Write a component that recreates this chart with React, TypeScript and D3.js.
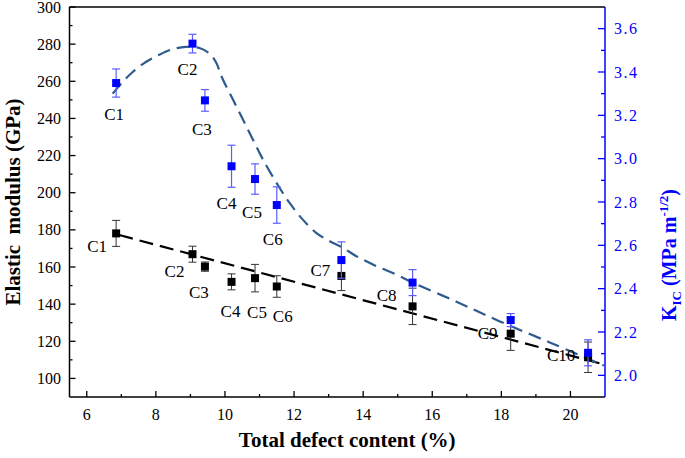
import React from "react";
import * as d3 from "d3";

// ---- data ----
const samples = ["C1", "C2", "C3", "C4", "C5", "C6", "C7", "C8", "C9", "C10"];
const defectContent = [6.85, 9.06, 9.42, 10.19, 10.87, 11.5, 13.37, 15.43, 18.27, 20.51];
const elasticModulus = [178.1, 166.9, 160.2, 152.0, 154.0, 149.5, 155.2, 138.8, 124.1, 111.4];
const elasticErr = [7.0, 4.3, 2.5, 4.3, 7.4, 5.8, 7.9, 9.8, 9.0, 8.2];
const kicSamples = ["C1", "C2", "C3", "C4", "C5", "C6", "C7", "C8", "C9", "C10"];
const kicValues = [3.349, 3.531, 3.269, 2.965, 2.906, 2.786, 2.532, 2.428, 2.255, 2.104];
const kicErr = [0.065, 0.043, 0.05, 0.097, 0.07, 0.084, 0.084, 0.06, 0.03, 0.06];
// fitted trend lines
const modulusFitX = [6.94, 20.97];
const modulusFitY = [177.2, 107.5];
const kicFitX = [6.75, 7.04, 7.33, 7.71, 8.1, 8.48, 8.87, 9.26, 9.55, 9.74, 9.93, 10.22, 10.51, 10.8, 11.09, 11.57, 11.86, 12.24, 12.63, 13.02, 13.4, 13.79, 14.37, 14.95, 15.43, 16.7, 17.94, 19.4, 20.83, 20.97];
const kicFitY = [3.3, 3.354, 3.4, 3.446, 3.48, 3.505, 3.516, 3.511, 3.485, 3.445, 3.369, 3.276, 3.184, 3.091, 2.999, 2.868, 2.798, 2.721, 2.659, 2.62, 2.59, 2.551, 2.505, 2.466, 2.428, 2.34, 2.25, 2.152, 2.054, 2.045];
const xTicks = [6, 8, 10, 12, 14, 16, 18, 20];
const yLeftTicks = [100, 120, 140, 160, 180, 200, 220, 240, 260, 280, 300];
const yRightTicks = [2.0, 2.2, 2.4, 2.6, 2.8, 3.0, 3.2, 3.4, 3.6];

// ---- layout (label offsets in px) ----
const blackLabelOffsets: [number, number][] = [
  [-19, 13], [-18, 17], [-6, 25], [-1, 29], [2, 34], [6, 29], [-21, -6], [-26, -11], [-23, -1], [-27, -2],
];
const blueLabelOffsets: ([number, number] | null)[] = [
  [-2, 31], [-5, 25], [-3, 29], [-5, 37], [-3, 33], [-4, 34], null, null, null, null,
];

const W = 685, H = 458;
const L = 69.5, R = 605, T = 7, B = 397;
const FONT = '"Liberation Serif", "Times New Roman", "Times"';
const BLUE = "#0000ff";

export default function App() {
  const x = d3.scaleLinear().domain([5.5, 21]).range([L, R]);
  const yL = d3.scaleLinear().domain([90, 300]).range([B, T]);
  const yR = d3.scaleLinear().domain([1.9, 3.7]).range([B, T]);

  const modLine = d3.line<number>().x((d, i) => x(modulusFitX[i])).y((d) => yL(d))(modulusFitY) || "";
  const kicLine =
    d3.line<number>().x((d, i) => x(kicFitX[i])).y((d) => yR(d)).curve(d3.curveCatmullRom)(kicFitY) || "";

  const xMinor = d3.range(7, 21, 2);
  const yLMinor = d3.range(110, 300, 20);
  const yRMinor = d3.range(2.1, 3.7, 0.2);

  const ms = 8;
  const cap = 4;

  return (
    <div style={{ fontFamily: FONT }}>
      <svg
        width={W}
        height={H}
        fontFamily="Liberation Serif"
        style={{ position: "absolute", left: 0, top: 0, background: "#fff", fontFamily: FONT }}
      >
        {/* frame */}
        <line x1={L} y1={T} x2={R} y2={T} stroke="#000" strokeWidth={1.5} />
        <line x1={L} y1={T} x2={L} y2={B} stroke="#000" strokeWidth={1.5} />
        <line x1={L} y1={B} x2={R} y2={B} stroke="#000" strokeWidth={1.5} />
        <line x1={R} y1={T} x2={R} y2={B} stroke={BLUE} strokeWidth={1.5} />

        {/* x ticks */}
        {xTicks.map((t) => (
          <g key={"xt" + t}>
            <line x1={x(t)} x2={x(t)} y1={B} y2={B - 6} stroke="#000" strokeWidth={1.3} />
            <text x={x(t)} y={420} textAnchor="middle" fontSize={16} fill="#000">
              {t}
            </text>
          </g>
        ))}
        {xMinor.map((t) => (
          <line key={"xm" + t} x1={x(t)} x2={x(t)} y1={B} y2={B - 3} stroke="#000" strokeWidth={1.3} />
        ))}

        {/* left ticks */}
        {yLeftTicks.map((t) => (
          <g key={"yl" + t}>
            <line x1={L} x2={L + 6} y1={yL(t)} y2={yL(t)} stroke="#000" strokeWidth={1.3} />
            <text x={61} y={yL(t) + 5.5} textAnchor="end" fontSize={16} fill="#000">
              {t}
            </text>
          </g>
        ))}
        {yLMinor.map((t) => (
          <line key={"ylm" + t} x1={L} x2={L + 3} y1={yL(t)} y2={yL(t)} stroke="#000" strokeWidth={1.3} />
        ))}

        {/* right ticks */}
        {yRightTicks.map((t) => (
          <g key={"yr" + t}>
            <line x1={R} x2={R - 7} y1={yR(t)} y2={yR(t)} stroke={BLUE} strokeWidth={1.3} />
            <text x={614} y={yR(t) + 5.5} textAnchor="start" fontSize={16} fill={BLUE} letterSpacing={1.5}>
              {d3.format(".1f")(t)}
            </text>
          </g>
        ))}
        {yRMinor.map((t) => (
          <line key={"yrm" + t} x1={R} x2={R - 4} y1={yR(t)} y2={yR(t)} stroke={BLUE} strokeWidth={1.3} />
        ))}

        {/* fit lines */}
        <path d={modLine} fill="none" stroke="#000" strokeWidth={2.2} strokeDasharray="14,7" />
        <path d={kicLine} fill="none" stroke="#2d5b8e" strokeWidth={2.2} strokeDasharray="13,7" />

        {/* black points */}
        {defectContent.map((d, i) => {
          const cx = x(d);
          const lo = yL(elasticModulus[i] - elasticErr[i]);
          const hi = yL(elasticModulus[i] + elasticErr[i]);
          return (
            <g key={"bp" + i}>
              <line x1={cx} x2={cx} y1={lo} y2={hi} stroke="#333" strokeWidth={1} />
              <line x1={cx - cap} x2={cx + cap} y1={lo} y2={lo} stroke="#333" strokeWidth={1} />
              <line x1={cx - cap} x2={cx + cap} y1={hi} y2={hi} stroke="#333" strokeWidth={1} />
              <rect x={cx - ms / 2} y={yL(elasticModulus[i]) - ms / 2} width={ms} height={ms} fill="#000" />
            </g>
          );
        })}

        {/* blue points */}
        {defectContent.map((d, i) => {
          const cx = x(d);
          const lo = yR(kicValues[i] - kicErr[i]);
          const hi = yR(kicValues[i] + kicErr[i]);
          return (
            <g key={"up" + i}>
              <line x1={cx} x2={cx} y1={lo} y2={hi} stroke="#5c5cff" strokeWidth={1.2} />
              <line x1={cx - cap} x2={cx + cap} y1={lo} y2={lo} stroke="#5c5cff" strokeWidth={1.2} />
              <line x1={cx - cap} x2={cx + cap} y1={hi} y2={hi} stroke="#5c5cff" strokeWidth={1.2} />
              <rect x={cx - ms / 2} y={yR(kicValues[i]) - ms / 2} width={ms} height={ms} fill={BLUE} />
            </g>
          );
        })}

        {/* labels */}
        {samples.map((s, i) => (
          <text
            key={"bl" + i}
            x={x(defectContent[i]) + blackLabelOffsets[i][0]}
            y={yL(elasticModulus[i]) + blackLabelOffsets[i][1] + 6}
            textAnchor="middle"
            fontSize={17}
            fill="#000"
          >
            {s}
          </text>
        ))}
        {kicSamples.map((s, i) => {
          const off = blueLabelOffsets[i];
          if (!off) return null;
          return (
            <text
              key={"ul" + i}
              x={x(defectContent[i]) + off[0]}
              y={yR(kicValues[i]) + off[1] + 6}
              textAnchor="middle"
              fontSize={17}
              fill="#000"
            >
              {s}
            </text>
          );
        })}

        {/* axis titles */}
        <text x={(L + R) / 2 + 10} y={447} textAnchor="middle" fontWeight="bold" fontSize={21} fill="#000">
          Total defect content (%)
        </text>
        <text
          transform={`translate(20, ${(T + B) / 2}) rotate(-90)`}
          textAnchor="middle"
          fontWeight="bold"
          fontSize={21}
          fill="#000"
          style={{ whiteSpace: "pre" }}
        >
          {"Elastic  modulus (GPa)"}
        </text>
        <text transform={`translate(676, 255) rotate(-90)`} textAnchor="middle" fontWeight="bold" fontSize={20} fill={BLUE}>
          K
          <tspan fontSize={13} dy={5}>IC</tspan>
          <tspan dy={-5}> (MPa m</tspan>
          <tspan fontSize={13} dy={-8}>-1/2</tspan>
          <tspan dy={8}>)</tspan>
        </text>
      </svg>
    </div>
  );
}
